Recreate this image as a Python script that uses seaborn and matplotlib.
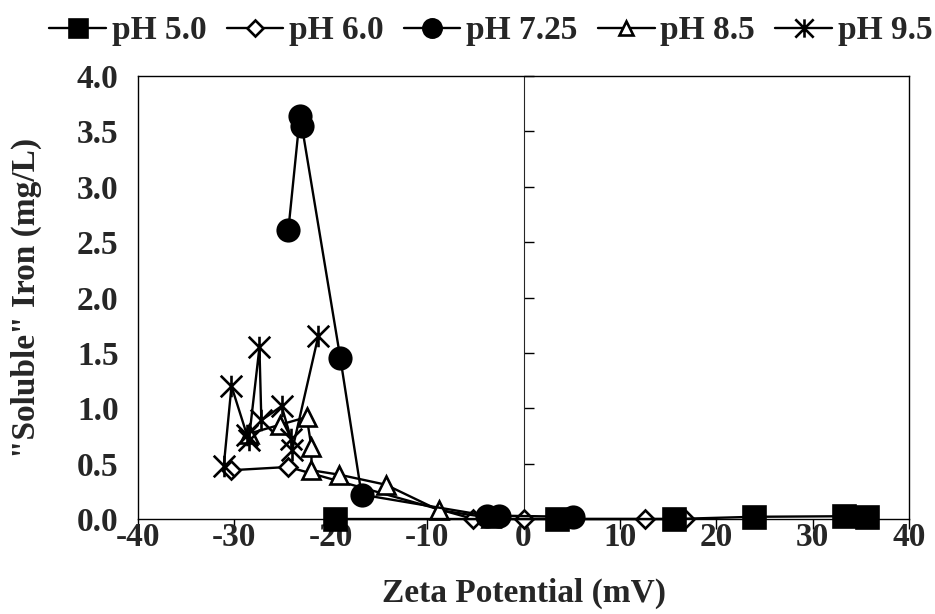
import numpy as np
import pandas as pd
import matplotlib
matplotlib.use("Agg")
import matplotlib.pyplot as plt
from matplotlib.path import Path
import seaborn as sns

# ---- data ----
x_ph50 = [-19.6, 3.5, 15.6, 23.9, 33.3, 35.6]
y_ph50 = [0.0, 0.0, 0.0, 0.02, 0.025, 0.02]

x_ph60 = [-30.4, -24.4, -5.2, 0.0, 12.6, 16.8]
y_ph60 = [0.44, 0.47, 0.0, 0.0, 0.0, 0.0]

x_ph725 = [-24.4, -23.2, -23.0, -19.0, -16.8, -3.8, -2.5, 5.1]
y_ph725 = [2.61, 3.64, 3.55, 1.45, 0.22, 0.03, 0.03, 0.02]

x_ph85 = [-28.5, -25.3, -22.5, -22.0, -22.0, -19.1, -14.3, -8.8, -3.4]
y_ph85 = [0.77, 0.85, 0.92, 0.65, 0.44, 0.40, 0.31, 0.08, 0.01]

x_ph95 = [-31.1, -30.3, -28.7, -28.5, -27.4, -27.2, -25.1, -24.1, -24.0, -21.3]
y_ph95 = [0.48, 1.20, 0.76, 0.71, 1.55, 0.89, 1.02, 0.72, 0.62, 1.65]

labels = ["pH 5.0", "pH 6.0", "pH 7.25", "pH 8.5", "pH 9.5"]
x_ticks = [-40, -30, -20, -10, 0, 10, 20, 30, 40]
y_ticks = [0.0, 0.5, 1.0, 1.5, 2.0, 2.5, 3.0, 3.5, 4.0]

# ---- style ----
sns.set_style("white")
plt.rcParams["font.family"] = ["Liberation Serif", "DejaVu Serif"]
plt.rcParams["font.weight"] = "bold"
plt.rcParams["axes.labelweight"] = "bold"

FS = 24

star = Path([(-1, -1), (1, 1), (-1, 1), (1, -1), (0, -1), (0, 1)],
            [Path.MOVETO, Path.LINETO, Path.MOVETO, Path.LINETO, Path.MOVETO, Path.LINETO])

series = [
    (labels[0], x_ph50, y_ph50, dict(marker="s", markersize=15.5, markerfacecolor="black"), 2.5),
    (labels[1], x_ph60, y_ph60, dict(marker="D", markersize=9.5, markerfacecolor="white"), 2.1),
    (labels[2], x_ph725, y_ph725, dict(marker="o", markersize=15.5, markerfacecolor="black"), 2.4),
    (labels[3], x_ph85, y_ph85, dict(marker="^", markersize=12.5, markerfacecolor="white"), 2.2),
    (labels[4], x_ph95, y_ph95, dict(marker=star, markersize=15.5, markerfacecolor="none"), 2.3),
]

fig = plt.figure(figsize=(9.35, 6.14), dpi=100)
ax = fig.add_axes([138 / 935, 1 - 519 / 614, (909 - 138) / 935, (519 - 76) / 614])

for lab, xs, ys, mk, z in series:
    df = pd.DataFrame({"x": xs, "y": ys})
    sns.lineplot(data=df, x="x", y="y", ax=ax, sort=False, estimator=None,
                 color="black", linewidth=1.7, label=lab,
                 markeredgecolor="black", markeredgewidth=1.9,
                 clip_on=False, zorder=z, **mk)

for ln in ax.lines:
    ln.set_clip_on(False)

ax.set_xlim(-40, 40)
ax.set_ylim(0, 4)
ax.set_xticks(x_ticks)
ax.set_xticklabels([str(v) for v in x_ticks])
ax.set_yticks(y_ticks)
ax.set_yticklabels([f"{v:.1f}" for v in y_ticks])

for sp in ax.spines.values():
    sp.set_visible(True)
    sp.set_color("black")
    sp.set_linewidth(1.0)

ax.tick_params(axis="x", direction="out", length=7, width=1, color="black",
               labelsize=FS, pad=-5, bottom=True)
ax.tick_params(axis="y", length=0, labelsize=FS, pad=14, left=True)

# vertical axis crossing at x = 0 with its own tick marks
sec = ax.secondary_yaxis(0.5)
sec.set_yticks(y_ticks)
sec.tick_params(axis="y", direction="out", length=7, width=1, color="black",
                labelleft=False, labelright=False)
sec.spines["left"].set_linewidth(1.0)
sec.spines["left"].set_color("black")

ax.set_xlabel("Zeta Potential (mV)", fontsize=FS, fontweight="bold", labelpad=18)
ax.set_ylabel('"Soluble" Iron (mg/L)', fontsize=FS, fontweight="bold", labelpad=25)

ax.legend(loc="center", bbox_to_anchor=(0.525, 0.95), bbox_transform=fig.transFigure,
          ncol=5, frameon=False, fontsize=FS, handlelength=1.7, handletextpad=0.18,
          columnspacing=0.6, markerscale=0.85, borderaxespad=0)

fig.savefig("out.png", dpi=100)
